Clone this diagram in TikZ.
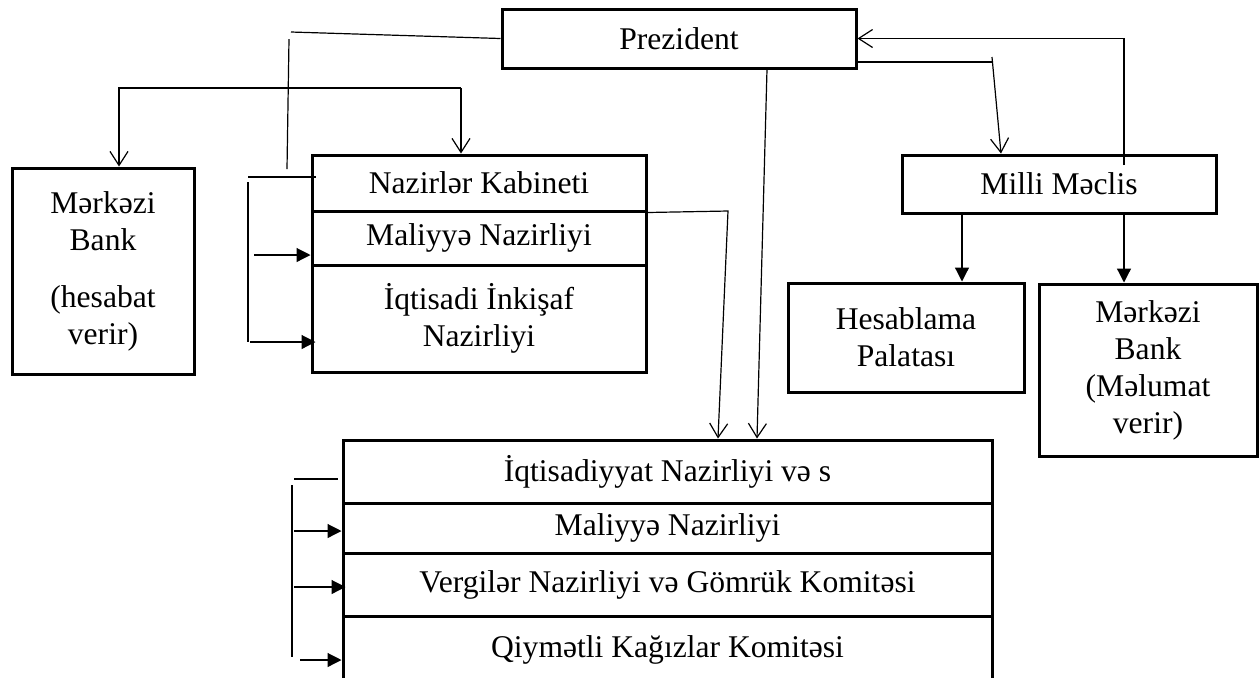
\documentclass[tikz,border=0pt]{standalone}
\usepackage{fontspec}
\setmainfont{Liberation Serif}
\usetikzlibrary{arrows.meta}

\tikzset{
  box/.style={draw, line width=1.5pt, inner sep=0pt, align=center,
              font=\fontsize{15.8}{18.5}\selectfont},
  link/.style={line width=0.6pt},
  openarr/.style={link, -{Straight Barb[length=7pt,width=9pt]}},
  fillarr/.style={link, -{Triangle[length=7pt,width=7pt]}},
}

\begin{document}
\begin{tikzpicture}[x=0.5pt, y=-0.5pt]
\useasboundingbox (0,0) rectangle (1260,677);

% boxes
\node[box, minimum width=177pt, minimum height=29.5pt] (pres) at (679,38.5) {Prezident};
\node[box, minimum width=91pt, minimum height=103pt] (mbl) at (103,271) {Mərkəzi\\Bank\\[10pt](hesabat\\verir)};
\node[box, minimum width=167pt, minimum height=28pt] (kab) at (479,183) {Nazirlər Kabineti};
\node[box, minimum width=167pt, minimum height=27pt] (mal) at (479,238) {Maliyyə Nazirliyi};
\node[box, minimum width=167pt, minimum height=53.5pt] (iqt) at (479,318.5) {İqtisadi İnkişaf\\Nazirliyi};
\node[box, minimum width=157pt, minimum height=29pt] (mm) at (1059,184) {Milli Məclis};
\node[box, minimum width=118pt, minimum height=54.5pt] (hp) at (906,337.5) {Hesablama\\Palatası};
\node[box, minimum width=109pt, minimum height=86pt] (mbr) at (1148,370) {Mərkəzi\\Bank\\(Məlumat\\verir)};
\node[box, minimum width=324.5pt, minimum height=31.5pt] (ik) at (667.5,471.5) {İqtisadiyyat Nazirliyi və s};
\node[box, minimum width=324.5pt, minimum height=25pt] (mal2) at (667.5,528) {Maliyyə Nazirliyi};
\node[box, minimum width=324.5pt, minimum height=31.5pt] (verg) at (667.5,584.5) {Vergilər Nazirliyi və Gömrük Komitəsi};
\node[box, minimum width=324.5pt, minimum height=34pt] (qiy) at (667.5,650) {Qiymətli Kağızlar Komitəsi};

% Prezident -> left side
\coordinate (pl) at (291,32);
\coordinate (vt) at (289,39);
\coordinate (vb) at (287,169);
\draw[link] (pres.west) -- (pl);
\draw[link] (vt) -- (vb);

\coordinate (hl) at (119,88);
\coordinate (hr) at (461,88);
\draw[openarr] (hr) -- (hl) -- (hl |- mbl.north);
\draw[openarr] (hr) -- (hr |- kab.north);

% bracket at Nazirler Kabineti
\coordinate (kt) at (248,177);
\coordinate (kv) at (248,182);
\coordinate (kb) at (248,342);
\coordinate (ka) at (254,255);
\draw[link] (kt) -- ([xshift=2.5pt]kab.west |- kt);
\draw[link] (kv) -- (kb);
\draw[fillarr] (ka) -- (ka -| mal.west);
\draw[fillarr] ([xshift=1pt]kb) -- ([xshift=2.5pt]kb -| iqt.west);

% lines down to the bottom block
\coordinate (kr) at (728,211);
\draw[openarr] (kab.south east) -- (kr) -- ([xshift=25.25pt]ik.north);
\draw[openarr] ([xshift=44pt]pres.south) -- ([xshift=44.75pt]ik.north);

% Prezident <-> Milli Meclis
\coordinate (mj) at (992,62);
\coordinate (mt) at (992,57);
\coordinate (mu) at (1124,165);
\draw[link] ([yshift=-11.75pt]pres.east) -- (mj);
\draw[openarr] (mt) -- ([xshift=-29pt]mm.north);
\draw[openarr] (mu) -- (mu |- pres.east) -- (pres.east);

% Milli Meclis -> below
\coordinate (d1) at (962,213);
\draw[fillarr] (d1) -- (d1 |- hp.north);
\draw[fillarr] (mu |- mm.south) -- (mu |- mbr.north);

% bracket at the bottom block
\coordinate (bt) at (294,479);
\coordinate (bv) at (292,485);
\coordinate (bb) at (292,657);
\coordinate (b1) at (294,531);
\coordinate (b2) at (294,587);
\coordinate (b3) at (300,660);
\draw[link] (bt) -- ([xshift=-2pt]ik.west |- bt);
\draw[link] (bv) -- (bb);
\draw[fillarr] (b1) -- (b1 -| mal2.west);
\draw[fillarr] (b2) -- ([xshift=2pt]b2 -| verg.west);
\draw[fillarr] (b3) -- (b3 -| qiy.west);
\end{tikzpicture}
\end{document}
